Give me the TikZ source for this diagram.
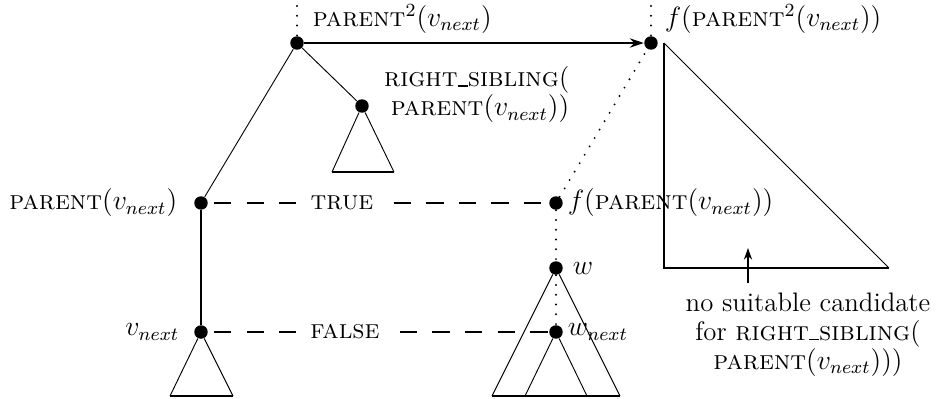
\documentclass[tikz,border=0pt]{standalone}
\usepackage{amsmath}
\usetikzlibrary{arrows.meta,positioning}
\newcommand{\vn}{v_{next}}
\newcommand{\us}{\rule{0.38em}{0.7pt}}
\begin{document}
\begin{tikzpicture}[x=0.43pt,y=-0.43pt,
    font=\fontsize{11.5pt}{12.5pt}\selectfont,
    vtx/.style={circle, fill=black, inner sep=0pt, minimum size=5.8pt},
    tree/.style={line width=0.4pt},
    heavy/.style={line width=1.2pt},
    link/.style={line width=1.2pt, dash pattern=on 7.5pt off 6.5pt, dash phase=-2.5pt},
    jump/.style={line width=0.9pt, line cap=round, dash pattern=on 0pt off 4.2pt},
    lbl/.style={inner sep=1pt}
]
\useasboundingbox (0,0) rectangle (938,398);

\node[vtx] (pp) at (297,43) {};
\node[vtx] (rs) at (362,106) {};
\node[vtx] (p) at (201,203) {};
\node[vtx] (vn) at (201,332) {};
\node[vtx] (fpp) at (651,43) {};
\node[vtx] (fp) at (556,203) {};
\node[vtx] (w) at (556,268) {};
\node[vtx] (wn) at (556,332) {};

\coordinate (pptop) at (297,6);
\coordinate (fpptop) at (651,6);
\coordinate (rtri) at (664,43);
\coordinate (arrtail) at (748,283);
\coordinate (arrhead) at (748,248);

\node[lbl, anchor=south west] (lpp) at (310,36) {\textsc{parent}$^2(\vn)$};
\node[lbl, anchor=south west] (lfpp) at (662,36) {$f(\textsc{parent}^2(\vn))$};
\node[lbl, anchor=north east, align=right] (lrs) at (572,64) {\textsc{right\us sibling}(\\\textsc{parent}$(\vn))$};
\node[lbl, anchor=east] (lp) at (180,203) {\textsc{parent}$(\vn)$};
\node[lbl, anchor=east] (lvn) at (182,332) {$\vn$};
\node[lbl, anchor=west] (lfp) at (565,203) {$f(\textsc{parent}(\vn))$};
\node[lbl, anchor=west] (lw) at (570,268) {$w$};
\node[lbl, anchor=west] (lwn) at (565,332) {$w_{next}$};
\node[inner sep=6pt] (ltrue) at (342,203) {\textsc{true}};
\node[inner sep=6pt] (lfalse) at (345,332) {\textsc{false}};

\draw[tree] (pp) -- (rs);
\draw[tree] (pp) -- (p);
\draw[heavy] (p) -- (vn);
\draw[jump] (pptop) -- (pp);
\draw[jump] (fpptop) -- (fpp);
\draw[heavy, -{Stealth[length=6pt, width=4pt]}] (pp) -- (fpp);

\draw[link] (p) -- (ltrue);
\draw[link] (ltrue) -- (fp);
\draw[link] (vn) -- (lfalse);
\draw[link] (lfalse) -- (wn);
\draw[jump] (fp) -- (fpp);
\draw[jump] (fp) -- (w);
\draw[jump] (w) -- (wn);

% subtrees
\draw[tree] (332,172) -- (rs) -- (394,172);
\draw[heavy] (332,172) -- (394,172);
\draw[tree] (170,396) -- (vn) -- (233,396);
\draw[heavy] (170,396) -- (233,396);
\draw[tree] (492,396) -- (w) -- (620,396);
\draw[tree] (525,396) -- (wn) -- (587,396);
\draw[heavy] (492,396) -- (620,396);

\draw[heavy] (rtri) -- (664,268) -- (889,268);
\draw[tree] (rtri) -- (889,268);

\node[lbl, align=center, anchor=north] (none) at (808,290) {no suitable candidate\\for \textsc{right\us sibling}(\\\textsc{parent}$(\vn)))$};
\draw[heavy, -{Stealth[length=5pt, width=3.5pt]}] (arrtail) -- (arrhead);
\end{tikzpicture}
\end{document}
